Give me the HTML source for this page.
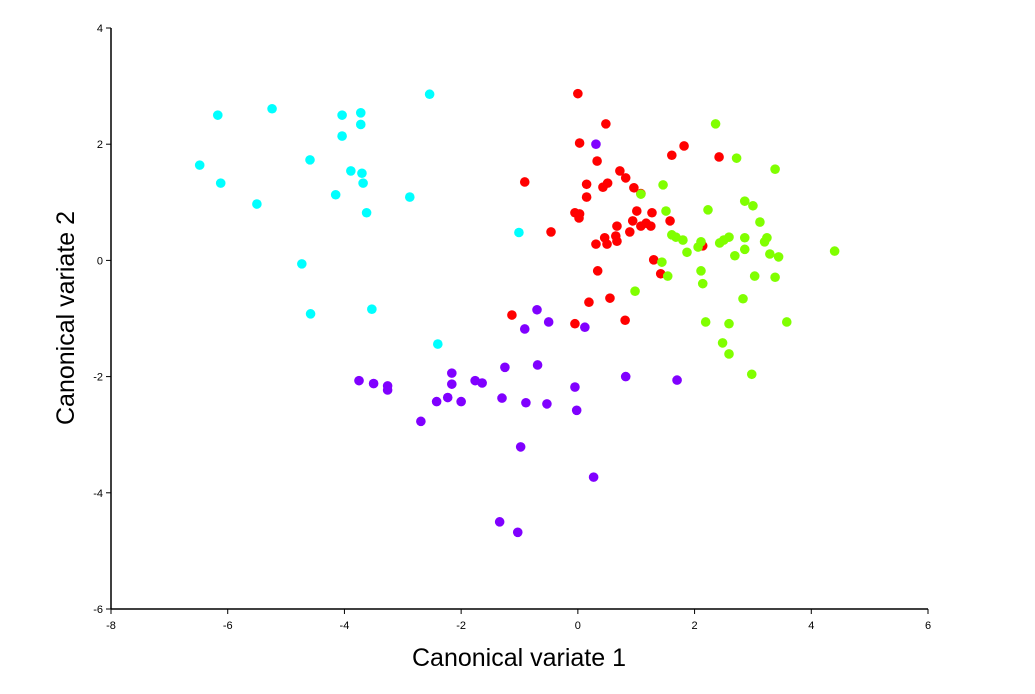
<!DOCTYPE html>
<html><head><meta charset="utf-8"><style>
html,body{margin:0;padding:0;background:#fff;}
svg{display:block;font-family:"Liberation Sans",Arial,sans-serif;}
</style></head><body>
<svg id="chart" width="1035" height="694"></svg>
<script>
const xTicks=[-8,-6,-4,-2,0,2,4,6];
const yTicks=[-6,-4,-2,0,2,4];
const cyanX=[-6.48,-6.17,-6.12,-5.50,-5.24,-4.73,-4.59,-4.58,-4.15,-4.04,-4.04,-3.89,-3.72,-3.72,-3.70,-3.68,-3.62,-3.53,-2.88,-2.54,-2.40,-1.01];
const cyanY=[1.64,2.50,1.33,0.97,2.61,-0.06,1.73,-0.92,1.13,2.50,2.14,1.54,2.34,2.54,1.50,1.33,0.82,-0.84,1.09,2.86,-1.44,0.48];
const purpleX=[0.31,-3.75,-3.50,-3.26,-3.26,-2.69,-2.42,-2.23,-2.16,-2.16,-2.00,-1.76,-1.64,-1.30,-1.25,-0.91,-0.89,-0.69,-0.70,-0.53,-0.50,-0.98,-1.34,-1.03,-0.05,-0.02,0.12,0.27,0.82,1.70];
const purpleY=[2.00,-2.07,-2.12,-2.16,-2.23,-2.77,-2.43,-2.36,-1.94,-2.13,-2.43,-2.07,-2.11,-2.37,-1.84,-1.18,-2.45,-1.80,-0.85,-2.47,-1.06,-3.21,-4.50,-4.68,-2.18,-2.58,-1.15,-3.73,-2.00,-2.06];
const redX=[0.00,0.48,0.03,0.33,2.42,1.82,1.61,0.72,0.82,0.15,0.51,-0.91,0.96,0.43,1.08,0.15,-0.05,0.03,0.02,1.01,1.27,0.94,0.67,1.17,1.58,1.08,-0.46,0.89,0.65,0.46,0.67,0.50,0.31,1.25,2.14,1.30,1.42,0.34,0.19,0.55,-1.13,-0.05,0.81];
const redY=[2.87,2.35,2.02,1.71,1.78,1.97,1.81,1.54,1.42,1.31,1.33,1.35,1.25,1.26,1.15,1.09,0.82,0.80,0.73,0.85,0.82,0.68,0.59,0.64,0.68,0.59,0.49,0.49,0.42,0.39,0.33,0.28,0.28,0.59,0.25,0.01,-0.23,-0.18,-0.72,-0.65,-0.94,-1.09,-1.03];
const greenX=[2.36,2.72,3.38,1.08,1.46,1.51,2.86,3.00,2.23,3.12,1.61,1.68,1.80,2.06,2.11,2.43,2.50,2.59,2.86,3.24,3.20,3.29,3.44,4.40,2.69,1.87,1.44,1.54,0.98,3.03,3.38,2.11,2.14,2.19,2.59,2.83,3.58,2.48,2.59,2.98,2.86];
const greenY=[2.35,1.76,1.57,1.14,1.30,0.85,1.02,0.94,0.87,0.66,0.44,0.40,0.35,0.23,0.32,0.30,0.35,0.40,0.39,0.39,0.32,0.11,0.06,0.16,0.08,0.14,-0.03,-0.27,-0.53,-0.27,-0.29,-0.18,-0.40,-1.06,-1.09,-0.66,-1.06,-1.42,-1.61,-1.96,0.19];

const NS='http://www.w3.org/2000/svg';
const svg=document.getElementById('chart');
const X0=111,X1=928,Y0=609,Y1=28;
function sx(v){return X0+(v-(-8))/(6-(-8))*(X1-X0);}
function sy(v){return Y0-(v-(-6))/(4-(-6))*(Y0-Y1);}
function mk(tag,attrs){const e=document.createElementNS(NS,tag);for(const k in attrs)e.setAttribute(k,attrs[k]);svg.appendChild(e);return e;}

let e;
e=mk('line',{x1:X0,y1:Y1,x2:X0,y2:Y0,stroke:'#000','stroke-width':1.5});


e=mk('line',{x1:X0,y1:Y0,x2:X1,y2:Y0,stroke:'#000','stroke-width':1.5});



xTicks.forEach(t=>{
  let l=mk('line',{x1:sx(t),y1:Y0,x2:sx(t),y2:Y0+5,stroke:'#000','stroke-width':1});
  
  
  let tx=mk('text',{x:sx(t),y:Y0+20,'text-anchor':'middle','font-size':11,fill:'#000'});
  tx.textContent=t;
  
  
});
yTicks.forEach(t=>{
  let l=mk('line',{x1:X0-5,y1:sy(t),x2:X0,y2:sy(t),stroke:'#000','stroke-width':1});
  
  
  let tx=mk('text',{x:X0-8,y:sy(t)+4,'text-anchor':'end','font-size':11,fill:'#000'});
  tx.textContent=t;
  
  
});

e=mk('text',{x:519,y:666,'text-anchor':'middle','font-size':25,fill:'#000'});
e.textContent='Canonical variate 1';


e=mk('text',{x:0,y:0,'text-anchor':'middle','font-size':25,fill:'#000',transform:'translate(74,318) rotate(-90)'});
e.textContent='Canonical variate 2';



function series(xs,ys,color,name){
  for(let i=0;i<xs.length;i++){
    const c=mk('circle',{cx:sx(xs[i]),cy:sy(ys[i]),r:4.8,fill:color});
    
    
  }
}
series(cyanX,cyanY,'#00ffff','point-cyan-group');
series(purpleX,purpleY,'#8000ff','point-purple-group');
series(redX,redY,'#ff0000','point-red-group');
series(greenX,greenY,'#80ff00','point-green-group');
</script>
</body></html>
